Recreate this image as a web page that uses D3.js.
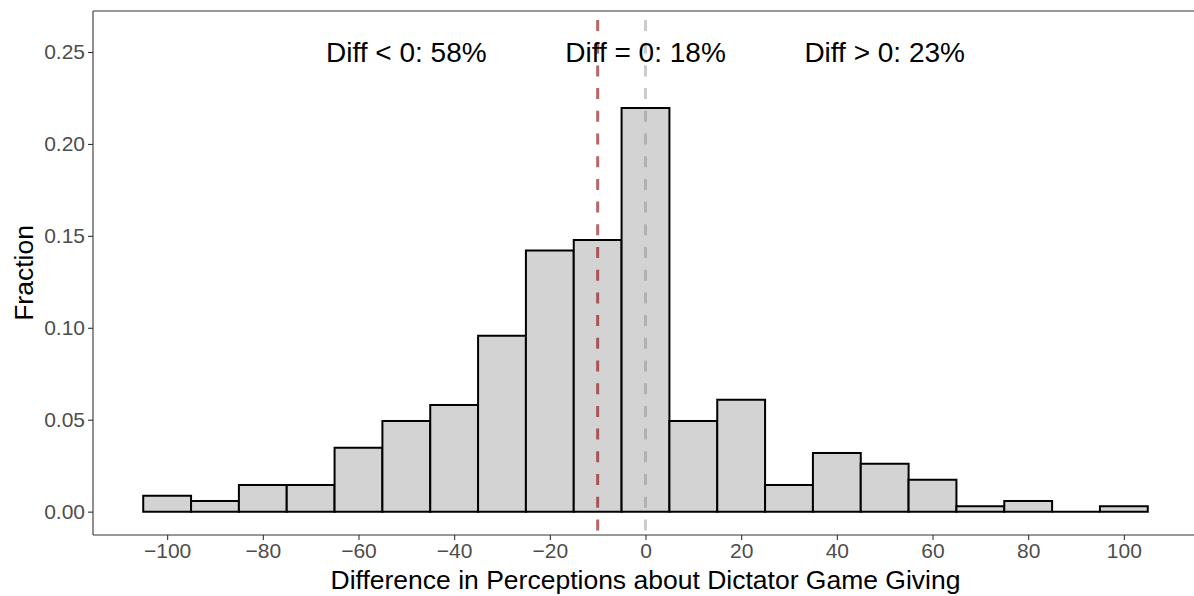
<!DOCTYPE html>
<html>
<head>
<meta charset="utf-8">
<script src="https://cdn.jsdelivr.net/npm/d3@7"></script>
<style>
  body { margin: 0; background: #fff; }
  text { font-family: "Liberation Sans", Arial, sans-serif; }
</style>
</head>
<body>
<svg width="1194" height="596"></svg>
<script>
// bin centres (width 10) and fraction in each bin
var binCenters = [-100, -90, -80, -70, -60, -50, -40, -30, -20, -10, 0, 10, 20, 30, 40, 50, 60, 70, 80, 90, 100];
var fractions  = [0.0087, 0.0058, 0.0145, 0.0145, 0.0348, 0.0493, 0.0580, 0.0957, 0.1420, 0.1478, 0.2196,
                  0.0493, 0.0609, 0.0145, 0.0319, 0.0261, 0.0174, 0.0029, 0.0058, 0.0, 0.0029];
var binWidth = 10;

var xTicks = [-100, -80, -60, -40, -20, 0, 20, 40, 60, 80, 100];
var yTicks = [0, 0.05, 0.10, 0.15, 0.20, 0.25];

var annoX = [-50, 0, 50];
var annoY = 0.25;
var annoText = ["Diff < 0: 58%", "Diff = 0: 18%", "Diff > 0: 23%"];

var meanDiff = -10; // red dashed line
var zeroLine = 0;   // grey dashed line

var svg = d3.select("svg");

var pLeft = 93, pRight = 1198, pTop = 11, pBottom = 535;

var x = d3.scaleLinear().domain([-115.5, 115.5]).range([pLeft, pRight]);
var y = d3.scaleLinear().domain([-0.0127, 0.2723]).range([pBottom, pTop]);

// bars (as closed paths so an empty bin still shows its outline)
svg.append("g")
  .selectAll("path")
  .data(binCenters)
  .enter().append("path")
    .attr("d", function(d, i) {
      var x0 = x(d - binWidth / 2), x1 = x(d + binWidth / 2);
      var y0 = y(0), y1 = y(fractions[i]);
      return "M" + x0 + "," + y0 + "V" + y1 + "H" + x1 + "V" + y0 + "Z";
    })
    .attr("fill", "#d3d3d3")
    .attr("stroke", "#000")
    .attr("stroke-width", 2);

// dashed reference lines
svg.append("line")
  .attr("x1", x(meanDiff)).attr("x2", x(meanDiff))
  .attr("y1", pTop).attr("y2", pBottom)
  .attr("stroke", "#8b0000").attr("stroke-opacity", 0.6)
  .attr("stroke-width", 3).attr("stroke-dasharray", "11,11.7")
  .attr("stroke-dashoffset", -9);

svg.append("line")
  .attr("x1", x(zeroLine)).attr("x2", x(zeroLine))
  .attr("y1", pTop).attr("y2", pBottom)
  .attr("stroke", "#808080").attr("stroke-opacity", 0.4)
  .attr("stroke-width", 3).attr("stroke-dasharray", "11,11.7")
  .attr("stroke-dashoffset", -9);

// annotations
svg.append("g")
  .selectAll("text")
  .data(annoText)
  .enter().append("text")
    .attr("x", function(d, i) { return x(annoX[i]); })
    .attr("y", y(annoY))
    .attr("text-anchor", "middle")
    .attr("dominant-baseline", "central")
    .attr("font-size", 28)
    .attr("fill", "#000")
    .text(function(d) { return d; });

// axes
var xAxis = d3.axisBottom(x).tickValues(xTicks).tickSize(5).tickPadding(3)
  .tickFormat(function(d) { return d < 0 ? "\u2212" + Math.abs(d) : d; });
var gx = svg.append("g").attr("transform", "translate(0," + pBottom + ")").call(xAxis);

var yAxis = d3.axisLeft(y).tickValues(yTicks).tickSize(5).tickPadding(3).tickFormat(d3.format(".2f"));
var gy = svg.append("g").attr("transform", "translate(" + pLeft + ",0)").call(yAxis);

[gx, gy].forEach(function(g) {
  g.select(".domain").remove();
  g.selectAll(".tick line").attr("stroke", "#333").attr("stroke-width", 1.1);
  g.selectAll(".tick text").attr("font-size", 21).attr("fill", "#4d4d4d")
    .attr("font-family", "Liberation Sans, Arial, sans-serif");
});

// axis lines: left, bottom, top
svg.append("line").attr("x1", pLeft).attr("x2", pLeft).attr("y1", pTop).attr("y2", pBottom)
  .attr("stroke", "#333").attr("stroke-width", 1.1);
svg.append("line").attr("x1", pLeft).attr("x2", 1194).attr("y1", pBottom).attr("y2", pBottom)
  .attr("stroke", "#333").attr("stroke-width", 1.1);
svg.append("line").attr("x1", pLeft).attr("x2", 1194).attr("y1", pTop).attr("y2", pTop)
  .attr("stroke", "#333").attr("stroke-width", 1.1);

// axis titles
svg.append("text")
  .attr("x", x(0)).attr("y", 589)
  .attr("text-anchor", "middle")
  .attr("font-size", 26.5)
  .text("Difference in Perceptions about Dictator Game Giving");

svg.append("text")
  .attr("transform", "translate(33," + ((pTop + pBottom) / 2) + ") rotate(-90)")
  .attr("text-anchor", "middle")
  .attr("font-size", 26.5)
  .text("Fraction");
</script>
</body>
</html>
